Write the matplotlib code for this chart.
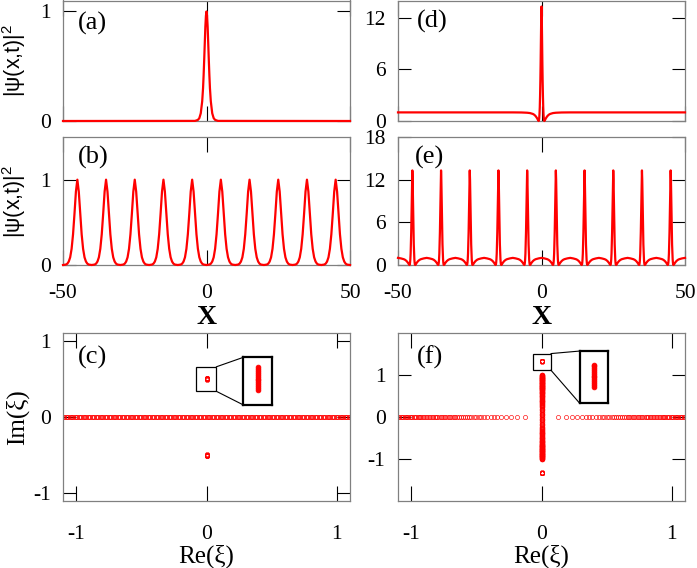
import numpy as np
import matplotlib
matplotlib.use('Agg')
import matplotlib.pyplot as plt
from matplotlib.patches import Rectangle, ConnectionPatch

# ---- data ----
# (a) single peak at x=0: offsets from the peak and |psi|^2
peak_dx = [-4.0, -3.0, -2.5, -2.0, -1.5, -1.2, -1.0, -0.8, -0.6, -0.4, -0.2, 0.0,
           0.2, 0.4, 0.6, 0.8, 1.0, 1.2, 1.5, 2.0, 2.5, 3.0, 4.0]
peak_a = [0.001, 0.01, 0.026, 0.07, 0.18, 0.30, 0.42, 0.56, 0.71, 0.86, 0.96, 1.0,
          0.96, 0.86, 0.71, 0.56, 0.42, 0.30, 0.18, 0.07, 0.026, 0.01, 0.001]
x_edges = [-50, 50]

# (b) periodic train, peak centres and one period of the profile
centers_b = [-45, -35, -25, -15, -5, 5, 15, 25, 35, 45]
cell_dx_b = [-5.0, -4.0, -3.5, -3.0, -2.5, -2.0, -1.5, -1.0, -0.5, 0.0,
             0.5, 1.0, 1.5, 2.0, 2.5, 3.0, 3.5, 4.0, 5.0]
cell_b = [0.0, 0.005, 0.015, 0.04, 0.09, 0.19, 0.36, 0.60, 0.86, 1.0,
          0.86, 0.60, 0.36, 0.19, 0.09, 0.04, 0.015, 0.005, 0.0]

# (d) spike on a unit background
spike_dx = [-10.0, -7.0, -5.0, -4.0, -3.0, -2.5, -2.0, -1.5, -1.2, -1.0, -0.9, -0.8, -0.7,
            -0.6, -0.5, -0.4, -0.3, -0.2, -0.1, 0.0, 0.1, 0.2, 0.3, 0.4, 0.5, 0.6,
            0.7, 0.8, 0.9, 1.0, 1.2, 1.5, 2.0, 2.5, 3.0, 4.0, 5.0, 7.0, 10.0]
spike_d = [1.0, 0.99, 0.96, 0.92, 0.82, 0.72, 0.55, 0.3, 0.1, 0.0, 0.05, 0.3, 0.8,
           1.6, 2.9, 4.6, 6.8, 9.5, 12.0, 13.3, 12.0, 9.5, 6.8, 4.6, 2.9, 1.6,
           0.8, 0.3, 0.05, 0.0, 0.1, 0.3, 0.55, 0.72, 0.82, 0.92, 0.96, 0.99, 1.0]
bg_d = [1.0, 1.0]

# (e) spike train
centers_e = [-45, -35, -25, -15, -5, 5, 15, 25, 35, 45]
cell_dx_e = [-5.0, -4.0, -3.0, -2.5, -2.0, -1.5, -1.2, -1.0, -0.9, -0.8, -0.7,
             -0.6, -0.5, -0.4, -0.3, -0.2, -0.1, 0.0, 0.1, 0.2, 0.3, 0.4, 0.5, 0.6,
             0.7, 0.8, 0.9, 1.0, 1.2, 1.5, 2.0, 2.5, 3.0, 4.0, 5.0]
cell_e = [1.0, 0.93, 0.82, 0.72, 0.55, 0.3, 0.1, 0.0, 0.05, 0.3, 0.8,
          1.6, 2.9, 4.6, 6.8, 9.5, 12.0, 13.3, 12.0, 9.5, 6.8, 4.6, 2.9, 1.6,
          0.8, 0.3, 0.05, 0.0, 0.1, 0.3, 0.55, 0.72, 0.82, 0.93, 1.0]

# (c) spectrum: continuous part on the real axis (positive half, symmetric)
re_c_pos = [0.00, 0.01, 0.02, 0.03, 0.04, 0.05, 0.06, 0.07, 0.08, 0.09, 0.10,
            0.11, 0.12, 0.13, 0.14, 0.15, 0.16, 0.17, 0.18, 0.19, 0.20,
            0.21, 0.22, 0.23, 0.24, 0.25, 0.26, 0.27, 0.28, 0.29, 0.30,
            0.31, 0.32, 0.33, 0.34, 0.35, 0.36, 0.37, 0.38, 0.39, 0.40,
            0.41, 0.42, 0.43, 0.44, 0.45, 0.46, 0.47, 0.48, 0.49, 0.50,
            0.51, 0.52, 0.53, 0.54, 0.55, 0.56, 0.57, 0.58, 0.59, 0.60,
            0.61, 0.62, 0.63, 0.64, 0.65, 0.66, 0.67, 0.68, 0.69, 0.70,
            0.71, 0.72, 0.73, 0.74, 0.75, 0.76, 0.77, 0.78, 0.79, 0.80,
            0.81, 0.82, 0.83, 0.84, 0.85, 0.86, 0.87, 0.88, 0.89, 0.90,
            0.91, 0.92, 0.93, 0.94, 0.95, 0.96, 0.97, 0.98, 0.99, 1.00,
            1.01, 1.02, 1.03, 1.04, 1.05, 1.06, 1.07, 1.08, 1.09, 1.10]
# discrete eigenvalue cluster near Im = +-0.5
im_c_bound = [0.490, 0.4917, 0.4933, 0.495, 0.4967, 0.4983, 0.500, 0.5017, 0.5033,
              0.505, 0.5067, 0.5083, 0.510]

# (f) spectrum: real axis with a gap, imaginary band, isolated pair
re_f_pos = [0.13, 0.185, 0.232, 0.272, 0.307, 0.338, 0.364, 0.39, 0.415, 0.44, 0.46,
            0.48, 0.50, 0.52, 0.54, 0.555, 0.57, 0.585, 0.60, 0.615, 0.63, 0.645,
            0.66, 0.673, 0.686, 0.70, 0.712, 0.725, 0.737, 0.75, 0.762, 0.774,
            0.786, 0.798, 0.81, 0.82, 0.832, 0.843, 0.855, 0.866, 0.877, 0.888,
            0.899, 0.91, 0.92, 0.93, 0.94, 0.95, 0.96, 0.97, 0.98, 0.99, 1.0,
            1.01, 1.02, 1.03, 1.04, 1.05, 1.06, 1.07, 1.08, 1.09, 1.10]
im_f_band = [0.0, 0.04, 0.08, 0.12, 0.16, 0.20, 0.23, 0.26, 0.29, 0.31, 0.33, 0.35,
             0.37, 0.39, 0.41, 0.43, 0.45, 0.47, 0.49, 0.51, 0.53, 0.545, 0.56,
             0.575, 0.59, 0.605, 0.62, 0.635, 0.65, 0.66, 0.67, 0.68, 0.69, 0.70,
             0.71, 0.72, 0.73, 0.74, 0.75, 0.76, 0.77, 0.78, 0.79, 0.80, 0.81,
             0.82, 0.83, 0.84, 0.85, 0.86, 0.87, 0.88, 0.89, 0.90, 0.91, 0.92,
             0.93, 0.94, 0.95, 0.96, 0.97, 0.98, 0.99, 1.0]
im_f_bound = [1.320, 1.3217, 1.3233, 1.325, 1.3267, 1.3283, 1.330, 1.3317, 1.3333,
              1.335, 1.3367, 1.3383, 1.340]

# ---- style ----
plt.rcParams['font.family'] = ['Liberation Serif', 'DejaVu Serif']
plt.rcParams['font.size'] = 15.5
plt.rcParams['axes.unicode_minus'] = False
plt.rcParams['mathtext.default'] = 'regular'

W, H = 697, 568
fig = plt.figure(figsize=(W / 100, H / 100), dpi=100)


def add_ax(l, t, r, b):
    return fig.add_axes([l / W, 1 - b / H, (r - l) / W, (b - t) / H])


def style(ax):
    for s in ax.spines.values():
        s.set_color('#808080')
        s.set_linewidth(0.9)
    ax.tick_params(direction='in', top=True, right=True, color='black', width=0.8)
    ax.tick_params(axis='x', length=11, pad=14)
    ax.tick_params(axis='y', length=9.5, pad=9)


def train(centers, dx, vals):
    xs, ys = [], []
    for c in centers:
        xs.extend(c + np.array(dx))
        ys.extend(vals)
    return xs, ys


def mirror(pos):
    pos = np.array(pos)
    neg = -pos[::-1]
    if pos[0] == 0:
        neg = neg[:-1]
    return np.concatenate([neg, pos])


line_kw = dict(color='red', lw=1.6, zorder=3, clip_on=False)
mark_kw = dict(ls='none', marker='o', ms=3.0, mfc='none', mec='red', mew=0.45)

ax_a = add_ax(63, 0.5, 350, 121)
ax_d = add_ax(398, 0.5, 685, 121)
ax_b = add_ax(63, 137, 350, 265)
ax_e = add_ax(398, 137, 685, 265)
ax_c = add_ax(63, 333, 350, 501)
ax_f = add_ax(398, 333, 685, 501)

for ax in [ax_a, ax_b, ax_c, ax_d, ax_e, ax_f]:
    style(ax)

# (a)
ax_a.plot([x_edges[0]] + peak_dx + [x_edges[1]], [0] + peak_a + [0], **line_kw)
ax_a.set_xlim(-50, 50)
ax_a.set_ylim(0, 1.1)
ax_a.set_yticks([0, 1])

# (b)
xb, yb = train(centers_b, cell_dx_b, cell_b)
ax_b.plot([x_edges[0]] + xb + [x_edges[1]], [0] + yb + [0], **line_kw)
ax_b.set_xlim(-50, 50)
ax_b.set_ylim(0, 1.5)
ax_b.set_yticks([0, 1])

# (d)
ax_d.plot([x_edges[0]] + spike_dx + [x_edges[1]], [bg_d[0]] + spike_d + [bg_d[1]], **line_kw)
ax_d.set_xlim(-50, 50)
ax_d.set_ylim(0, 14)
ax_d.set_yticks([0, 6, 12])

# (e)
xe, ye = train(centers_e, cell_dx_e, cell_e)
ax_e.plot(xe, ye, **line_kw)
ax_e.set_xlim(-50, 50)
ax_e.set_ylim(0, 18)
ax_e.set_yticks([0, 6, 12, 18])

for ax in [ax_a, ax_b, ax_d, ax_e]:
    ax.set_xticks([-50, 0, 50])
for ax in [ax_a, ax_d]:
    ax.tick_params(labelbottom=False)
for ax in [ax_b, ax_e]:
    ax.set_xlabel('X', fontsize=20, fontweight='bold')
    ax.xaxis.set_label_coords(0.5, -0.315)
for ax in [ax_a, ax_b]:
    ax.set_ylabel('|ψ(x,t)|$^2$', family='Liberation Sans', fontsize=15.5)
    ax.yaxis.set_label_coords(-0.122, 0.5)

# (c)
re_c = mirror(re_c_pos)
ax_c.plot(re_c, np.zeros_like(re_c), **mark_kw)
im_cb = np.concatenate([-np.array(im_c_bound), im_c_bound])
ax_c.plot(np.zeros_like(im_cb), im_cb, **mark_kw)
ax_c.set_xlim(-1.1, 1.1)
ax_c.set_ylim(-1.1, 1.1)
ax_c.set_yticks([-1, 0, 1])

# (f)
re_f = np.concatenate([-np.array(re_f_pos[::-1]), re_f_pos])
ax_f.plot(re_f, np.zeros_like(re_f), **mark_kw)
im_fb = mirror(im_f_band)
ax_f.plot(np.zeros_like(im_fb), im_fb, ls='none', marker='o', ms=3.2, mfc='none',
          mec='red', mew=0.7)
im_fi = np.concatenate([-np.array(im_f_bound), im_f_bound])
ax_f.plot(np.zeros_like(im_fi), im_fi, **mark_kw)
ax_f.set_xlim(-1.1, 1.1)
ax_f.set_ylim(-2, 2)
ax_f.set_yticks([-1, 0, 1])

for ax in [ax_c, ax_f]:
    ax.set_xticks([-1, 0, 1])
    ax.tick_params(axis='x', pad=17)
    ax.set_xlabel('Re(ξ)', fontsize=18)
    ax.xaxis.set_label_coords(0.5, -0.26)
ax_c.set_ylabel('Im(ξ)', fontsize=18)
ax_c.yaxis.set_label_coords(-0.118, 0.5)


def add_zoom(ax, small, big, ylim, im):
    x0, x1, y0, y1 = small
    ax.add_patch(Rectangle((x0, y0), x1 - x0, y1 - y0, fill=False, ec='black',
                           lw=0.9, zorder=4))
    bx0, bx1, by0, by1 = big
    ins = ax.inset_axes([bx0, by0, bx1 - bx0, by1 - by0], transform=ax.transData)
    ins.plot(np.zeros(len(im)), im, ls='none', marker='o', ms=3.4, mfc='red',
             mec='red', mew=0.6)
    ins.set_xlim(-1, 1)
    ins.set_ylim(*ylim)
    ins.set_xticks([])
    ins.set_yticks([])
    for s in ins.spines.values():
        s.set_linewidth(1.6)
        s.set_color('black')
    for ya, yi in [(y1, 1), (y0, 0)]:
        ax.add_artist(ConnectionPatch(xyA=(x1, ya), coordsA=ax.transData,
                                      xyB=(0, yi), coordsB=ins.transAxes,
                                      color='black', lw=0.8))


add_zoom(ax_c, (-0.08, 0.075, 0.337, 0.657), (0.28, 0.505, 0.16, 0.78),
         (0.4764, 0.519), im_c_bound)
add_zoom(ax_f, (-0.062, 0.072, 1.116, 1.51), (0.292, 0.51, 0.33, 1.57),
         (1.3048, 1.3524), im_f_bound)

labels = [(ax_a, '(a)', 0.052, 0.81), (ax_b, '(b)', 0.052, 0.84),
          (ax_c, '(c)', 0.052, 0.857), (ax_d, '(d)', 0.066, 0.825),
          (ax_e, '(e)', 0.06, 0.84), (ax_f, '(f)', 0.066, 0.857)]
for ax, s, tx, ty in labels:
    ax.text(tx, ty, s, transform=ax.transAxes, ha='left', va='center', fontsize=19)

fig.savefig('out.png', dpi=100)
